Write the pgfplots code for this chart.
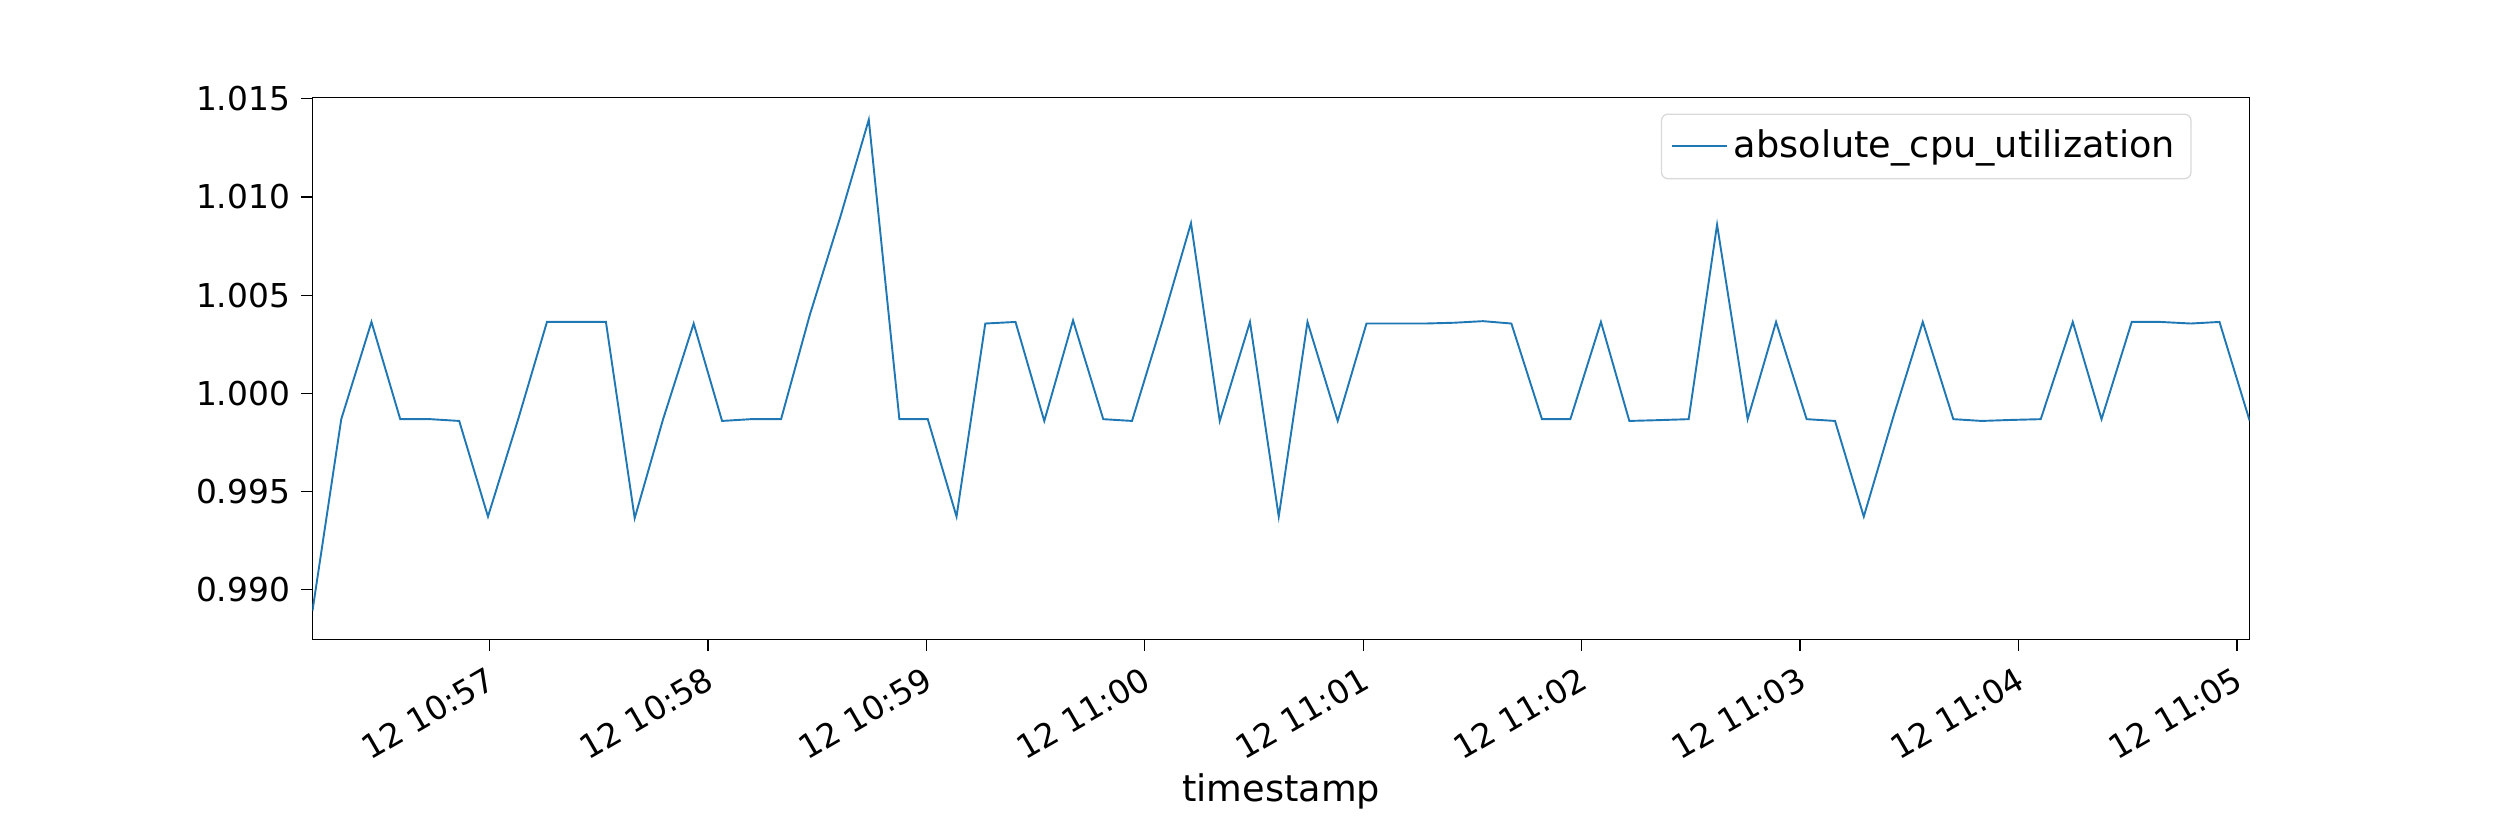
\documentclass[border=0pt]{standalone}
\usepackage{pgfplots}
\pgfplotsset{compat=1.18}
\usepackage{fontspec}
\setmainfont{DejaVu Sans}
\definecolor{mplblue}{HTML}{1F77B4}
\begin{document}
\begin{tikzpicture}
\begin{axis}[
  scale only axis, width=607.5pt, height=170pt,
  xmin=11.4, xmax=543.5, ymin=0.98748, ymax=1.01508,
  xtick={60,120,180,240,300,360,420,480,540},
  xticklabels={12 10:57,12 10:58,12 10:59,12 11:00,12 11:01,12 11:02,12 11:03,12 11:04,12 11:05},
  x tick label style={rotate=30, anchor=north east, font=\fontsize{10.3}{12}\selectfont},
  ytick={0.990,0.995,1.000,1.005,1.010,1.015},
  /pgf/number format/fixed,
  /pgf/number format/fixed zerofill,
  /pgf/number format/precision=3,
  /pgf/number format/assume math mode=true,
  y tick label style={font=\fontsize{10.3}{12}\selectfont},
  scaled y ticks=false,
  tick align=outside, tick style={black, thin}, xtick pos=bottom, ytick pos=left,
  major tick length=3.5pt,
  xlabel={timestamp}, xlabel style={font=\fontsize{11.5}{13}\selectfont, yshift=4pt},
  legend pos=north east,
  legend style={font=\fontsize{11.5}{13}\selectfont, draw=black!15, rounded corners=2pt, inner sep=3pt},
  legend cell align=left,
  axis line style={black, thin},
]
\addplot[mplblue, line width=0.6pt] coordinates {
(11.4,0.98894)(19.3,0.99869)(27.6,1.00364)(35.5,0.99869)(43.8,0.99869)(51.7,0.99860)
(59.6,0.99373)(67.9,0.99869)(75.8,1.00364)(83.7,1.00364)(92.0,1.00364)(99.9,0.99365)
(107.7,0.99869)(116.1,1.00356)(123.9,0.99860)(131.8,0.99869)(140.1,0.99869)(148.0,1.0040)
(156.4,1.0090)(164.2,1.01394)(172.6,0.99869)(180.4,0.99869)(188.3,0.99373)(196.2,1.00356)
(204.5,1.00364)(212.4,0.99860)(220.3,1.00372)(228.6,0.99869)(236.5,0.99860)(244.8,1.00364)
(252.7,1.00867)(260.6,0.99860)(268.9,1.00364)(276.8,0.99373)(284.7,1.00364)(293.0,0.99860)
(300.9,1.00356)(308.8,1.00356)(317.1,1.00356)(325.0,1.00360)(332.9,1.00368)(340.7,1.00356)
(349.1,0.99869)(356.9,0.99869)(365.3,1.00364)(373.1,0.99860)(381.0,0.99864)(389.4,0.99869)
(397.2,1.00859)(405.6,0.99869)(413.4,1.00364)(421.8,0.99869)(429.6,0.99860)(437.5,0.99373)
(445.8,0.99893)(453.7,1.00364)(462.1,0.99869)(469.9,0.99860)(477.8,0.99865)(486.1,0.99869)
(494.9,1.00364)(502.8,0.99869)(511.1,1.00364)(519.0,1.00364)(527.3,1.00356)(535.2,1.00364)
(543.5,0.99860)
};
\addlegendentry{absolute\_cpu\_utilization}
\end{axis}
\path[use as bounding box] ([xshift=-98pt,yshift=-50.5pt]current axis.south west) rectangle ++(784pt,251pt);
\end{tikzpicture}
\end{document}
